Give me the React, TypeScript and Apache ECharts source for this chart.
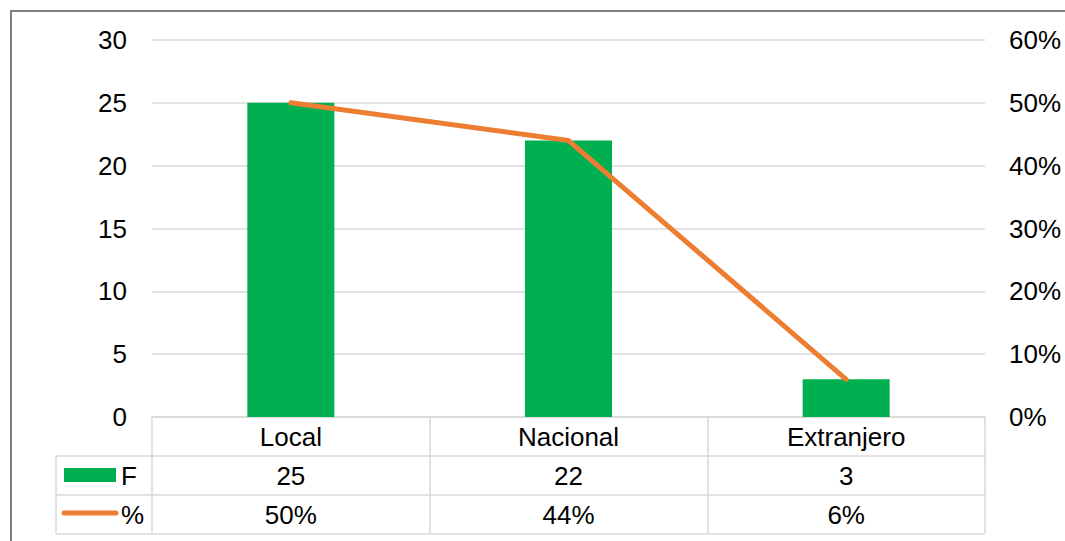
import React, { useEffect, useRef } from "react";
import * as echarts from "echarts";

const categories = ["Local", "Nacional", "Extranjero"];
const freqValues = [25, 22, 3];
const pctValues = [50, 44, 6];
const freqLabels = ["25", "22", "3"];
const pctLabels = ["50%", "44%", "6%"];
const seriesNames = ["F", "%"];

const FONT = "'Liberation Sans', Arial, sans-serif";
const FS = 26;
const GRID_COLOR = "#d9d9d9";
const BAR_COLOR = "#00B050";
const LINE_COLOR = "#ED7D31";

export default function App() {
  const ref = useRef<HTMLDivElement>(null);
  useEffect(() => {
    document.body.style.margin = "0";
    const chart = echarts.init(ref.current!, null, { renderer: "svg" });
    const option: any = {
      animation: false,
      backgroundColor: "#ffffff",
      grid: { left: 152, right: 80, top: 40, bottom: 124 },
      xAxis: {
        type: "category",
        data: categories,
        axisLine: { show: true, lineStyle: { color: GRID_COLOR, width: 1.5 } },
        axisTick: { show: true, length: 116, interval: 0, lineStyle: { color: GRID_COLOR, width: 1.5 } },
        axisLabel: { show: false },
      },
      yAxis: [
        {
          type: "value",
          min: 0,
          max: 30,
          interval: 5,
          axisLine: { show: false },
          axisTick: { show: false },
          splitLine: { lineStyle: { color: GRID_COLOR, width: 1.5 } },
          axisLabel: { color: "#000", fontSize: FS, fontFamily: FONT, margin: 25 },
        },
        {
          type: "value",
          min: 0,
          max: 60,
          interval: 10,
          axisLine: { show: false },
          axisTick: { show: false },
          splitLine: { show: false },
          axisLabel: { color: "#000", fontSize: FS, fontFamily: FONT, margin: 24, formatter: "{value}%" },
        },
      ],
      series: [
        {
          name: seriesNames[0],
          type: "bar",
          data: freqValues,
          barWidth: 87,
          itemStyle: { color: BAR_COLOR },
        },
        {
          name: seriesNames[1],
          type: "line",
          yAxisIndex: 1,
          data: pctValues,
          showSymbol: false,
          symbol: "none",
          lineStyle: { color: LINE_COLOR, width: 5, cap: "round", join: "round" },
        },
      ],
    };
    chart.setOption(option);

    const xs = categories.map((c) => chart.convertToPixel({ xAxisIndex: 0 }, c) as number);
    const step = xs.length > 1 ? xs[1] - xs[0] : 278;
    const right = xs[xs.length - 1] + step / 2;
    const y0 = chart.convertToPixel({ yAxisIndex: 0 }, 0) as number;
    const rowH = 39;
    const r1 = y0 + rowH;
    const r2 = y0 + 2 * rowH;
    const r3 = y0 + 3 * rowH;
    const legLeft = 56;
    const lineStyle = { stroke: GRID_COLOR, lineWidth: 1.5 };
    const textStyle = (x: number, y: number, t: string, align = "center") => ({
      type: "text",
      x,
      y,
      style: { text: t, fill: "#000", font: `${FS}px ${FONT}`, textAlign: align, textVerticalAlign: "middle" },
    });

    const graphic: any[] = [
      { type: "rect", shape: { x: 11, y: 11, width: 1100, height: 600 }, style: { fill: "none", stroke: "#7f7f7f", lineWidth: 2 }, silent: true },
      { type: "line", shape: { x1: legLeft, y1: r1, x2: right, y2: r1 }, style: lineStyle },
      { type: "line", shape: { x1: legLeft, y1: r2, x2: right, y2: r2 }, style: lineStyle },
      { type: "line", shape: { x1: legLeft, y1: r3, x2: right, y2: r3 }, style: lineStyle },
      { type: "line", shape: { x1: legLeft, y1: r1, x2: legLeft, y2: r3 }, style: lineStyle },
      { type: "rect", shape: { x: 64, y: r1 + 12, width: 52, height: 14 }, style: { fill: BAR_COLOR } },
      { type: "line", shape: { x1: 64, y1: r2 + 18, x2: 116, y2: r2 + 18 }, style: { stroke: LINE_COLOR, lineWidth: 5, lineCap: "round" } },
      textStyle(121, r1 + rowH / 2, seriesNames[0], "left"),
      textStyle(121, r2 + rowH / 2, seriesNames[1], "left"),
    ];
    categories.forEach((c, i) => {
      graphic.push(textStyle(xs[i], y0 + rowH / 2, c));
      graphic.push(textStyle(xs[i], r1 + rowH / 2, freqLabels[i]));
      graphic.push(textStyle(xs[i], r2 + rowH / 2, pctLabels[i]));
    });
    chart.setOption({ graphic });
    return () => chart.dispose();
  }, []);
  return <div ref={ref} style={{ position: "fixed", left: 0, top: 0, width: 1065, height: 541 }} />;
}
